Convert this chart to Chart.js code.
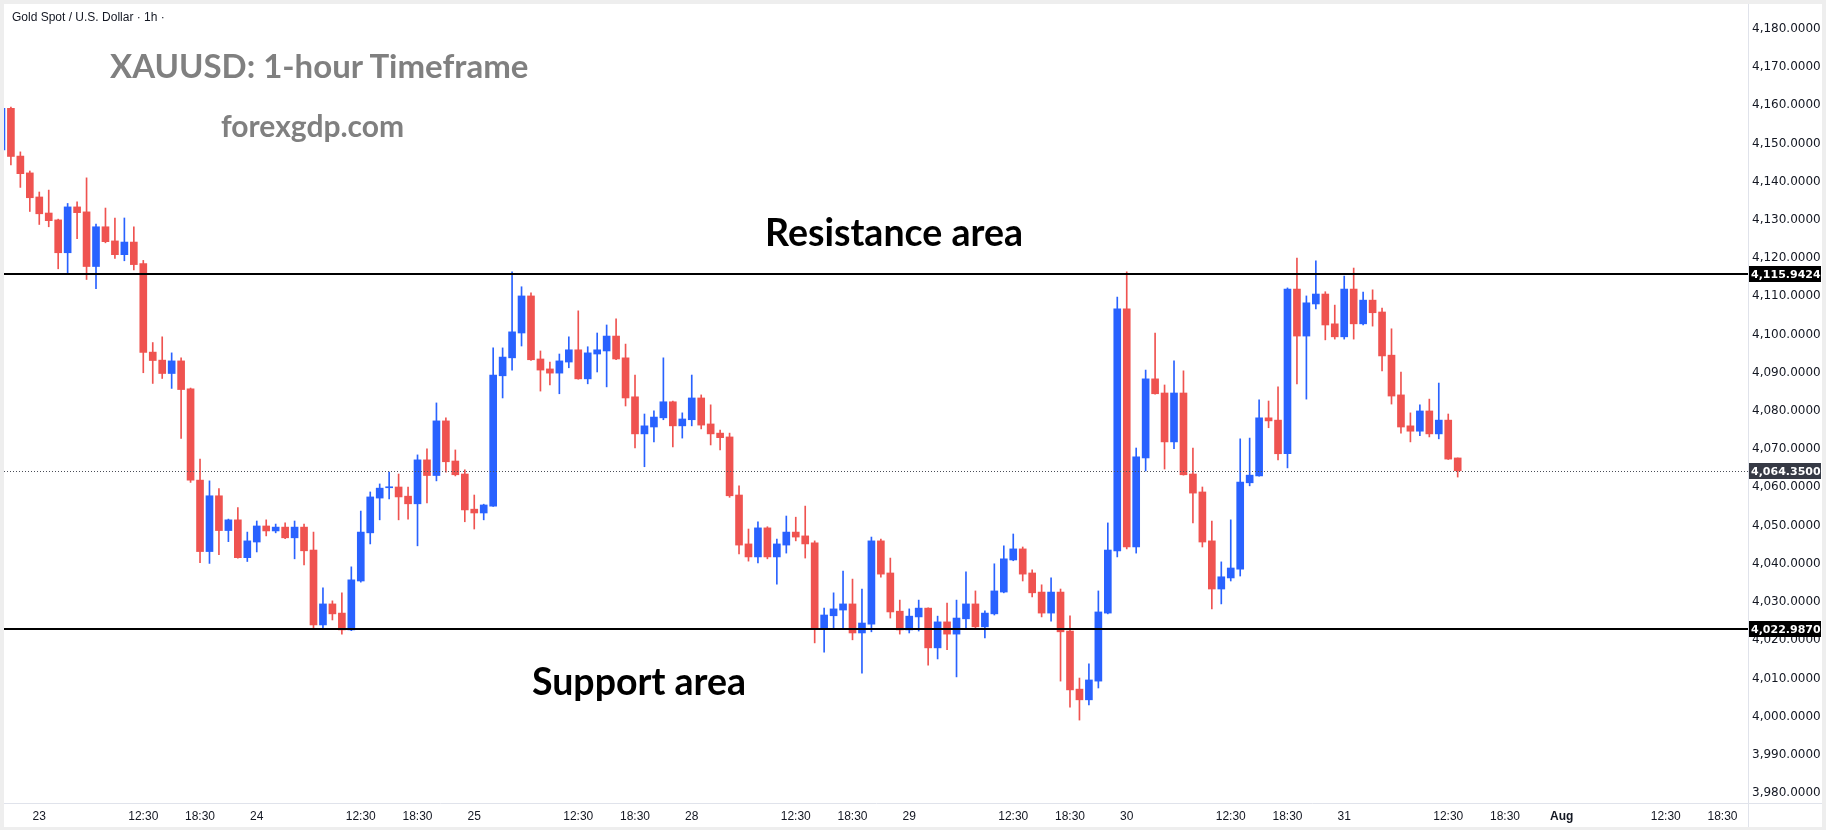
<!DOCTYPE html>
<html>
<head>
<meta charset="utf-8">
<script src="https://cdn.jsdelivr.net/npm/chart.js@4.4.1/dist/chart.umd.min.js"></script>
<style>
  html, body { margin: 0; padding: 0; background: #eeeeee; }
  #wrap { position: absolute; left: 4px; top: 4px; width: 1818px; height: 823px; background: #ffffff; }
  #chart { position: absolute; left: 0; top: 0; }
  .txt { position: absolute; white-space: nowrap; line-height: 1; transform: translateY(-50%); }
  #symbol { left: 8px; top: 13px; font: 12px 'Liberation Sans', Arial, sans-serif; color: #131722; }
  #title { left: 106px; top: 61px; font: bold 33px Lato, 'Open Sans', sans-serif; color: #808080; }
  #site { left: 217px; top: 121px; font: bold 30px Lato, 'Open Sans', sans-serif; color: #808080; }
  .area { font: bold 37.5px Lato, 'Open Sans', sans-serif; color: #000000; transform: translate(-50%, -50%); }
  #res { left: 890px; top: 227px; }
  #sup { left: 635px; top: 676px; }
</style>
</head>
<body>
<div id="wrap">
  <canvas id="chart" width="1818" height="823"></canvas>
  <div class="txt" id="symbol">Gold Spot / U.S. Dollar · 1h ·</div>
  <div class="txt" id="title">XAUUSD: 1-hour Timeframe</div>
  <div class="txt" id="site">forexgdp.com</div>
  <div class="txt area" id="res">Resistance area</div>
  <div class="txt area" id="sup">Support area</div>
</div>
<script>
// hourly candles, slot -4 (22nd 20:30) .. slot 150 (31st 13:30)
const firstSlot = -4;

const opens = [
  4148.3, 4159.2, 4146.7, 4142.3, 4136.0, 4131.8, 4130.0, 4121.4, 4133.4, 4132.1,
  4117.8, 4128.2, 4124.5, 4120.9, 4124.2, 4118.6, 4095.4, 4093.3, 4089.8, 4093.1,
  4085.8, 4061.9, 4043.2, 4057.8, 4048.7, 4051.5, 4041.6, 4045.7, 4049.9, 4048.6,
  4049.6, 4046.8, 4049.6, 4043.6, 4024.0, 4029.5, 4027.1, 4022.7, 4035.5, 4048.1,
  4057.2, 4059.9, 4060.1, 4057.7, 4055.7, 4067.2, 4063.1, 4077.4, 4066.9, 4063.5,
  4054.3, 4053.3, 4055.1, 4089.2, 4093.9, 4100.4, 4110.1, 4093.6, 4091.0, 4089.9,
  4092.8, 4096.0, 4088.4, 4094.9, 4095.7, 4099.6, 4093.9, 4083.7, 4074.0, 4075.8,
  4078.2, 4082.4, 4076.1, 4077.7, 4083.4, 4076.6, 4074.2, 4073.2, 4058.0, 4045.2,
  4041.8, 4049.4, 4041.8, 4044.9, 4048.3, 4047.3, 4045.5, 4022.95, 4026.4, 4027.9,
  4029.5, 4021.9, 4024.2, 4046.0, 4037.6, 4027.6, 4022.7, 4026.1, 4028.4, 4018.0,
  4024.8, 4021.6, 4025.6, 4029.5, 4023.5, 4026.9, 4032.6, 4041.0, 4043.9, 4037.6,
  4032.6, 4027.1, 4032.6, 4022.4, 4007.2, 4004.4, 4009.3, 4027.1, 4043.4, 4106.7,
  4044.4, 4067.7, 4088.4, 4084.7, 4071.9, 4084.7, 4063.5, 4058.8, 4046.0, 4033.4,
  4036.3, 4038.6, 4061.2, 4063.0, 4078.2, 4077.6, 4068.8, 4111.9, 4099.6, 4108.0,
  4110.6, 4102.8, 4099.4, 4111.9, 4102.8, 4109.0, 4105.9, 4094.6, 4084.2, 4076.1,
  4074.7, 4080.0, 4074.0, 4077.6, 4067.7
];
const highs = [
  4160.0, 4159.5, 4147.8, 4142.8, 4137.3, 4137.8, 4130.2, 4134.3, 4134.7, 4141.0,
  4128.9, 4133.1, 4130.5, 4130.5, 4128.2, 4119.4, 4097.9, 4099.4, 4095.2, 4093.9,
  4086.0, 4067.4, 4061.7, 4059.7, 4051.7, 4054.7, 4048.3, 4051.2, 4051.5, 4050.4,
  4050.7, 4051.2, 4050.4, 4048.3, 4033.7, 4030.3, 4032.4, 4039.2, 4053.8, 4058.8,
  4060.9, 4064.0, 4063.5, 4060.1, 4068.5, 4070.1, 4082.1, 4078.2, 4069.8, 4064.6,
  4058.0, 4055.6, 4096.5, 4096.5, 4116.4, 4112.5, 4110.9, 4095.7, 4092.8, 4094.9,
  4099.4, 4106.2, 4096.8, 4100.4, 4102.5, 4104.1, 4097.5, 4089.4, 4079.2, 4080.0,
  4093.9, 4082.6, 4079.5, 4089.4, 4084.2, 4081.6, 4075.0, 4074.2, 4060.4, 4049.1,
  4051.0, 4049.7, 4046.5, 4052.5, 4052.2, 4055.1, 4046.0, 4028.4, 4032.4, 4038.1,
  4036.0, 4033.4, 4047.0, 4046.5, 4041.5, 4030.5, 4028.2, 4030.5, 4028.5, 4026.3,
  4029.7, 4030.5, 4037.9, 4032.9, 4027.7, 4040.0, 4044.7, 4047.8, 4044.4, 4038.4,
  4034.5, 4036.3, 4033.4, 4026.4, 4010.1, 4013.8, 4032.9, 4050.7, 4109.8, 4116.4,
  4070.3, 4090.7, 4100.4, 4086.8, 4093.1, 4090.5, 4070.3, 4060.1, 4051.2, 4040.5,
  4051.5, 4072.7, 4072.9, 4082.9, 4082.6, 4086.3, 4112.2, 4120.0, 4110.1, 4119.3,
  4111.2, 4107.7, 4115.3, 4117.4, 4111.1, 4111.7, 4106.9, 4101.5, 4090.2, 4079.5,
  4081.6, 4083.1, 4087.3, 4079.2, 4067.7
];
const lows = [
  4147.0, 4144.4, 4138.5, 4132.2, 4128.8, 4128.2, 4117.2, 4116.1, 4125.1, 4114.4,
  4112.0, 4124.0, 4119.9, 4119.3, 4116.9, 4090.0, 4087.2, 4088.5, 4085.9, 4072.8,
  4061.3, 4040.3, 4040.1, 4042.4, 4045.8, 4041.5, 4040.6, 4043.1, 4047.3, 4048.1,
  4046.6, 4041.3, 4039.7, 4022.9, 4023.0, 4025.3, 4021.6, 4022.5, 4035.2, 4045.2,
  4051.5, 4057.0, 4051.5, 4051.7, 4044.7, 4055.9, 4061.7, 4064.0, 4063.0, 4051.0,
  4049.1, 4051.5, 4055.0, 4083.4, 4090.7, 4097.0, 4093.2, 4085.2, 4086.8, 4084.5,
  4091.3, 4088.3, 4087.1, 4090.2, 4086.3, 4093.4, 4081.3, 4070.3, 4065.4, 4071.9,
  4077.7, 4070.6, 4072.9, 4076.1, 4075.3, 4071.1, 4069.8, 4057.4, 4042.6, 4040.7,
  4040.2, 4041.3, 4034.7, 4042.8, 4046.0, 4041.5, 4019.3, 4016.9, 4022.9, 4023.0,
  4020.1, 4011.4, 4022.2, 4036.5, 4025.8, 4021.6, 4021.9, 4022.4, 4013.5, 4015.1,
  4017.5, 4010.4, 4023.2, 4023.0, 4020.6, 4026.6, 4032.4, 4040.8, 4035.5, 4031.3,
  4026.1, 4025.0, 4009.3, 4002.5, 3999.1, 4003.1, 4007.5, 4026.9, 4041.8, 4043.9,
  4042.8, 4064.3, 4084.4, 4064.8, 4070.1, 4063.2, 4050.7, 4044.4, 4028.2, 4029.5,
  4035.5, 4036.8, 4060.4, 4062.9, 4075.6, 4067.2, 4065.1, 4087.1, 4083.1, 4106.7,
  4098.6, 4098.8, 4098.8, 4098.8, 4102.5, 4102.2, 4090.5, 4081.8, 4074.2, 4071.9,
  4073.5, 4073.2, 4072.7, 4067.3, 4062.7
];
const closes = [
  4159.2, 4146.6, 4142.1, 4135.8, 4131.6, 4129.8, 4121.4, 4133.4, 4131.9, 4117.8,
  4128.2, 4124.3, 4120.9, 4124.2, 4118.3, 4095.3, 4093.2, 4089.8, 4093.1, 4085.6,
  4061.9, 4043.2, 4057.8, 4048.7, 4051.5, 4041.6, 4046.0, 4049.9, 4048.6, 4049.6,
  4046.8, 4049.6, 4043.4, 4024.0, 4029.5, 4026.9, 4022.7, 4035.8, 4048.3, 4057.5,
  4059.8, 4060.1, 4057.5, 4055.7, 4067.2, 4063.1, 4077.4, 4066.7, 4063.3, 4054.1,
  4053.3, 4055.4, 4089.4, 4094.1, 4100.7, 4110.1, 4093.4, 4090.7, 4089.9, 4093.1,
  4096.0, 4088.4, 4095.2, 4096.0, 4099.6, 4093.6, 4083.4, 4074.0, 4076.1, 4078.4,
  4082.4, 4076.1, 4077.9, 4083.4, 4076.3, 4074.0, 4073.0, 4057.8, 4044.9, 4041.8,
  4049.4, 4041.8, 4045.2, 4048.3, 4047.0, 4045.2, 4022.95, 4026.6, 4028.2, 4029.5,
  4021.9, 4024.5, 4046.0, 4037.3, 4027.4, 4022.7, 4026.3, 4028.4, 4018.0, 4024.8,
  4021.6, 4025.8, 4029.5, 4023.5, 4027.1, 4032.9, 4041.3, 4043.9, 4037.3, 4032.4,
  4027.1, 4032.6, 4022.2, 4007.0, 4004.4, 4009.6, 4027.4, 4043.6, 4106.7, 4044.4,
  4068.0, 4088.4, 4084.5, 4071.9, 4084.7, 4063.3, 4058.5, 4045.7, 4033.4, 4036.6,
  4038.9, 4061.4, 4063.2, 4078.2, 4077.4, 4068.8, 4111.9, 4099.6, 4108.3, 4110.6,
  4102.5, 4099.4, 4111.9, 4102.8, 4109.0, 4105.7, 4094.4, 4083.9, 4075.8, 4074.7,
  4080.0, 4074.0, 4077.6, 4067.4, 4064.35
];

// x-axis labels, placed on hourly slots (23 slots a trading day)
const tickSlots = [0, 11, 17, 23, 34, 40, 46, 57, 63, 69, 80, 86, 92, 103, 109, 115, 126, 132, 138, 149, 155, 161, 172, 178];
const tickLabels = ['23', '12:30', '18:30', '24', '12:30', '18:30', '25', '12:30', '18:30', '28', '12:30', '18:30',
  '29', '12:30', '18:30', '30', '12:30', '18:30', '31', '12:30', '18:30', 'Aug', '12:30', '18:30'];

const resistanceLevel = 4115.9424;
const supportLevel = 4022.9870;
const lastPrice = 4064.35;

const UP = '#2962ff';
const DOWN = '#ef5350';

const fmtPrice = v => v.toLocaleString('en-US', { minimumFractionDigits: 4, maximumFractionDigits: 4 });

const slots = opens.map((_, i) => firstSlot + i);
const colors = opens.map((o, i) => closes[i] >= o ? UP : DOWN);

// drop the label padding Chart.js reserves, so the plot fills the frame
const noPad = scale => {
    scale.paddingTop = 0;
    scale.paddingBottom = 0;
    scale.paddingLeft = 0;
    scale.paddingRight = 0;
};

const levelsPlugin = {
    id: 'levels',
    afterDatasetsDraw(chart) {
        const { ctx, chartArea: a, scales: { y } } = chart;
        ctx.save();
        // last price dotted line
        ctx.strokeStyle = '#4a4d57';
        ctx.lineWidth = 1;
        ctx.setLineDash([1, 2]);
        const yl = Math.round(y.getPixelForValue(lastPrice)) + 0.5;
        ctx.beginPath();
        ctx.moveTo(a.left, yl);
        ctx.lineTo(a.right, yl);
        ctx.stroke();
        ctx.setLineDash([]);
        // resistance / support lines
        ctx.strokeStyle = '#000000';
        ctx.lineWidth = 2;
        [resistanceLevel, supportLevel].forEach(v => {
            const yy = Math.round(y.getPixelForValue(v));
            ctx.beginPath();
            ctx.moveTo(a.left, yy);
            ctx.lineTo(a.right, yy);
            ctx.stroke();
        });
        ctx.restore();
    },
    afterDraw(chart) {
        const { ctx, chartArea: a, scales: { y }, width, height } = chart;
        ctx.save();
        // axis separators running into the corner cell
        ctx.strokeStyle = '#e0e3eb';
        ctx.lineWidth = 1;
        ctx.beginPath();
        ctx.moveTo(a.right + 0.5, a.bottom);
        ctx.lineTo(a.right + 0.5, height);
        ctx.moveTo(a.right, a.bottom + 0.5);
        ctx.lineTo(width, a.bottom + 0.5);
        ctx.stroke();
        // price tags on the axis
        const tags = [
            { v: resistanceLevel, bg: '#000000' },
            { v: lastPrice, bg: '#363a45' },
            { v: supportLevel, bg: '#000000' }
        ];
        ctx.font = 'bold 11px "DejaVu Sans", sans-serif';
        ctx.textBaseline = 'middle';
        ctx.textAlign = 'left';
        tags.forEach(t => {
            const yy = Math.round(y.getPixelForValue(t.v));
            ctx.fillStyle = t.bg;
            ctx.fillRect(a.right + 1, yy - 8, width - a.right - 2, 16);
            ctx.fillStyle = '#ffffff';
            ctx.fillText(fmtPrice(t.v), a.right + 3, yy + 1);
        });
        ctx.restore();
    }
};

const ctx = document.getElementById('chart').getContext('2d');
new Chart(ctx, {
    type: 'bar',
    data: {
        datasets: [
            {
                label: 'Wicks',
                data: slots.map((s, i) => ({ x: s, y: [lows[i], highs[i]] })),
                backgroundColor: colors,
                barThickness: 1,
                grouped: false,
                clip: 0,
                order: 2
            },
            {
                label: 'Bodies',
                data: slots.map((s, i) => ({ x: s, y: [opens[i], closes[i]] })),
                backgroundColor: colors,
                barThickness: 7,
                minBarLength: 1,
                grouped: false,
                clip: 0,
                order: 1
            }
        ]
    },
    options: {
        responsive: false,
        animation: false,
        layout: { padding: 0 },
        plugins: {
            legend: { display: false },
            tooltip: { enabled: false }
        },
        scales: {
            x: {
                type: 'linear',
                offset: false,
                min: -3.73,
                max: 180.7,
                grid: { display: false, drawTicks: false, tickLength: 0 },
                border: { display: true, color: '#e0e3eb' },
                afterBuildTicks: scale => {
                    scale.ticks = tickSlots.map(v => ({ value: v }));
                },
                afterFit: scale => { scale.height = 24; noPad(scale); },
                ticks: {
                    autoSkip: false,
                    maxRotation: 0,
                    padding: 6,
                    color: '#131722',
                    font: c => ({
                        family: "'Liberation Sans', Arial, sans-serif",
                        size: 12,
                        weight: tickLabels[c.index] === 'Aug' ? 'bold' : 'normal'
                    }),
                    callback: (v, i) => tickLabels[i]
                }
            },
            y: {
                position: 'right',
                min: 3977.4,
                max: 4186.5,
                grid: { display: false, drawTicks: false, tickLength: 0 },
                border: { display: true, color: '#e0e3eb' },
                afterFit: scale => { scale.width = 74; noPad(scale); },
                ticks: {
                    stepSize: 10,
                    includeBounds: false,
                    padding: 4,
                    color: '#131722',
                    font: { family: "'DejaVu Sans', sans-serif", size: 12 },
                    callback: v => fmtPrice(v)
                }
            }
        }
    },
    plugins: [levelsPlugin]
});
</script>
</body>
</html>
